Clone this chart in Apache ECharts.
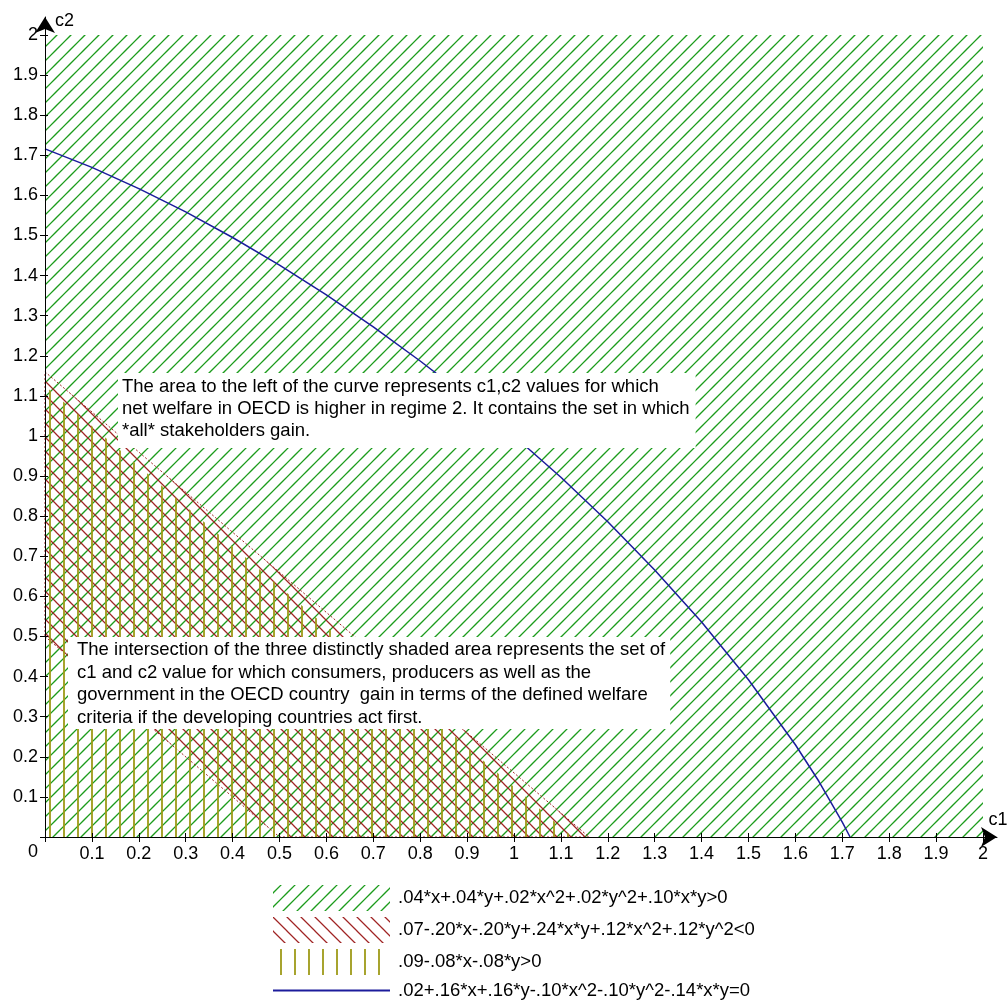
<!DOCTYPE html>
<html><head><meta charset="utf-8">
<script src="https://cdn.jsdelivr.net/npm/echarts@6/dist/echarts.min.js"></script>
<style>html,body{margin:0;padding:0;background:#fff}#c{width:1007px;height:1005px}</style>
</head><body><div id="c"></div>
<script>
// ---- data ----
const xTicks = [0,0.1,0.2,0.3,0.4,0.5,0.6,0.7,0.8,0.9,1,1.1,1.2,1.3,1.4,1.5,1.6,1.7,1.8,1.9,2];
const yTicks = [0,0.1,0.2,0.3,0.4,0.5,0.6,0.7,0.8,0.9,1,1.1,1.2,1.3,1.4,1.5,1.6,1.7,1.8,1.9,2];
const greenRegion  = [[0,0],[2,0],[2,2],[0,2]];
const redRegion    = [[0,0.5],[0.5,0],[1.16,0],[0,1.16]];
const yellowRegion = [[0,0],[1.125,0],[0,1.125]];
const blueCurve = [[0,1.716],[0.1,1.67],[0.2,1.617],[0.3,1.559],[0.4,1.495],[0.5,1.426],[0.6,1.352],
  [0.7,1.272],[0.8,1.187],[0.9,1.097],[1.0,1.0],[1.1,0.897],[1.2,0.786],[1.3,0.666],[1.4,0.536],
  [1.5,0.392],[1.6,0.23],[1.65,0.139],[1.7,0.037],[1.7166,0]];
const legendNames = [
  '.04*x+.04*y+.02*x^2+.02*y^2+.10*x*y>0',
  '.07-.20*x-.20*y+.24*x*y+.12*x^2+.12*y^2<0',
  '.09-.08*x-.08*y>0',
  '.02+.16*x+.16*y-.10*x^2-.10*y^2-.14*x*y=0'
];
const note1Lines = [
  'The area to the left of the curve represents c1,c2 values for which',
  'net welfare in OECD is higher in regime 2. It contains the set in which',
  '*all* stakeholders gain.'
];
const note2Lines = [
  'The intersection of the three distinctly shaded area represents the set of',
  'c1 and c2 value for which consumers, producers as well as the',
  'government in the OECD country  gain in terms of the defined welfare',
  'criteria if the developing countries act first.'
];

const FONT = '"Liberation Sans", Arial, sans-serif';

function hatch(kind, color, lw) {
  const s = 14;
  const c = document.createElement('canvas');
  c.width = s; c.height = s;
  const g = c.getContext('2d');
  g.strokeStyle = color; g.lineWidth = lw;
  g.beginPath();
  if (kind === '/') {
    g.moveTo(-2, 10); g.lineTo(10, -2);
    g.moveTo(6, 16); g.lineTo(16, 6);
  } else if (kind === '\\') {
    g.moveTo(-2, -2); g.lineTo(16, 16);
    g.moveTo(-2, 12); g.lineTo(2, 16);
    g.moveTo(12, -2); g.lineTo(16, 2);
  } else {
    g.moveTo(8, -1); g.lineTo(8, s + 1);
  }
  g.stroke();
  return { image: c, repeat: 'repeat' };
}
const greenPat = hatch('/', '#1c9c1c', 1.25);
const redPat = hatch('\\', '#a02424', 1.25);
const yellowPat = hatch('|', '#9e9a18', 1.8);

function polySeries(name, pts, pat, z, stroke) {
  return {
    type: 'custom', name: name, coordinateSystem: 'cartesian2d',
    data: pts, encode: { x: 0, y: 1 }, silent: true, z: z,
    itemStyle: { color: pat },
    renderItem: function (params, api) {
      if (params.dataIndex !== 0) return null;
      const points = pts.map(p => api.coord(p));
      return {
        type: 'polygon', shape: { points: points },
        style: { fill: pat, stroke: stroke || null, lineWidth: 1, lineDash: stroke ? [2, 2] : null }
      };
    }
  };
}

const fmt = v => (Math.abs(v) < 1e-9 ? '' : String(+(+v).toFixed(1)));

const chart = echarts.init(document.getElementById('c'), null, { renderer: 'canvas' });
chart.setOption({
  animation: false,
  backgroundColor: '#fff',
  grid: { left: 45, right: 10, top: 17, bottom: 168, outerBoundsMode: 'none', containLabel: false },
  xAxis: [{
    type: 'value', min: 0, max: 2.0299, z: 10,
    name: 'c1', nameLocation: 'end', nameGap: 1, nameMoveOverlap: false,
    nameTextStyle: { color: '#000', fontSize: 18, fontFamily: FONT, align: 'center', verticalAlign: 'bottom', padding: [0, 0, 8, 0] },
    axisLine: { show: true, onZero: false, lineStyle: { color: '#000', width: 1 }, symbol: ['none', 'arrow'], symbolSize: [15, 16] },
    axisTick: { show: true, length: 5, lineStyle: { color: '#000' }, customValues: xTicks },
    axisLabel: { show: true, color: '#000', fontSize: 18, fontFamily: FONT, margin: 8, customValues: xTicks, formatter: fmt },
    splitLine: { show: false }
  }, {
    type: 'value', min: 0, max: 2.0299, z: 10, position: 'bottom',
    axisLine: { show: false }, axisLabel: { show: false }, splitLine: { show: false },
    axisTick: { show: true, inside: true, length: 4, lineStyle: { color: '#000' }, customValues: xTicks }
  }],
  yAxis: [{
    type: 'value', min: 0, max: 2.0449, z: 10,
    name: 'c2', nameLocation: 'end', nameGap: -4, nameMoveOverlap: false,
    nameTextStyle: { color: '#000', fontSize: 18, fontFamily: FONT, align: 'left', verticalAlign: 'middle', padding: [0, 0, 0, 10] },
    axisLine: { show: true, onZero: false, lineStyle: { color: '#000', width: 1 }, symbol: ['none', 'arrow'], symbolSize: [15, 16] },
    axisTick: { show: true, length: 5, lineStyle: { color: '#000' }, customValues: yTicks },
    axisLabel: {
      show: true, color: '#000', fontSize: 18, fontFamily: FONT, margin: 7, customValues: yTicks,
      formatter: v => (Math.abs(v) < 1e-9 ? '{o|0}' : String(+(+v).toFixed(1))),
      rich: { o: { fontSize: 18, fontFamily: FONT, color: '#000', padding: [30, 0, 0, 0] } }
    },
    splitLine: { show: false }
  }, {
    type: 'value', min: 0, max: 2.0449, z: 10, position: 'left',
    axisLine: { show: false }, axisLabel: { show: false }, splitLine: { show: false },
    axisTick: { show: true, inside: true, length: 3, lineStyle: { color: '#000' }, customValues: yTicks }
  }],
  legend: {
    orient: 'vertical', left: 268, top: 880, height: 125, itemWidth: 117, itemHeight: 26, itemGap: 6,
    selectedMode: false,
    textStyle: { color: '#000', fontSize: 18.5, fontFamily: FONT, padding: [0, 0, 0, 3] },
    data: [
      { name: legendNames[0], icon: 'rect' },
      { name: legendNames[1], icon: 'rect' },
      { name: legendNames[2], icon: 'rect' },
      { name: legendNames[3], icon: 'path://M0,0L100,0L100,1.6L0,1.6Z' }
    ]
  },
  series: [
    polySeries(legendNames[0], greenRegion, greenPat, 2),
    polySeries(legendNames[1], redRegion, redPat, 3, '#a02424'),
    polySeries(legendNames[2], yellowRegion, yellowPat, 4),
    {
      type: 'line', name: legendNames[3], data: blueCurve, showSymbol: false, symbol: 'none',
      smooth: false, z: 5, silent: true,
      lineStyle: { color: '#1c1c9c', width: 1.5 }, itemStyle: { color: '#1c1c9c' }
    }
  ],
  graphic: [
    {
      type: 'text', left: 118, top: 373, z: 100, silent: true,
      style: { text: note1Lines.join('\n'), fill: '#000', font: '18.5px ' + FONT, lineHeight: 22,
        backgroundColor: '#fff', padding: [3, 6, 6, 4] }
    },
    {
      type: 'text', left: 68, top: 637, z: 100, silent: true,
      style: { text: note2Lines.join('\n'), fill: '#000', font: '18.5px ' + FONT, lineHeight: 22.5,
        backgroundColor: '#fff', padding: [2, 5, 0, 9] }
    }
  ]
});
</script>
</body></html>
